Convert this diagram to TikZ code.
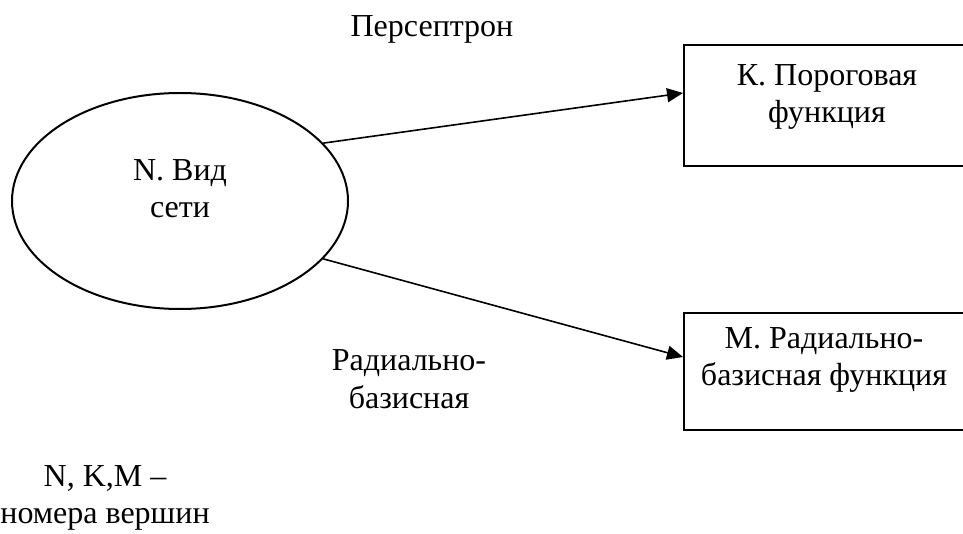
\documentclass[tikz,border=0pt]{standalone}
\usepackage{fontspec}
\setmainfont{Liberation Serif}
\usetikzlibrary{arrows.meta,shapes.geometric}

\begin{document}
\begin{tikzpicture}[x=0.5pt,y=-0.5pt,>={Triangle[length=8pt,width=7pt]},
  font=\fontsize{16}{18.75}\selectfont,
  vert/.style={draw,line width=1pt,inner sep=0pt},
  lbl/.style={align=center,inner sep=0pt}]
\useasboundingbox (0,0) rectangle (963,534);
% vertices
\node[vert,ellipse,minimum width=168pt,minimum height=108pt] (N) at (180,201) {};
\node[vert,minimum width=143pt,minimum height=60.5pt] (K) at (827,105.5) {};
\node[vert,minimum width=143pt,minimum height=58.5pt] (M) at (827,371.5) {};
\node[lbl] (Ntxt) at (180,188.5) {N. Вид\\сети};
\node[lbl] (Ktxt) at (827,96.75) {К. Пороговая\\функция};
\node[lbl] (Mtxt) at (824,360) {М. Радиально-\\базисная функция};
% edges
\draw[->,line width=0.8pt] (N.22.6) -- ([yshift=6.25pt]K.west);
\draw[->,line width=0.8pt] (N.-22.6) -- ([yshift=7.25pt]M.west);
\node[anchor=base,inner sep=0pt] (perc) at (432,37) {Персептрон};
\node[lbl] (rbf) at (409,379) {Радиально-\\базисная};
% legend
\node[lbl] (legend) at (105,498) {N, K,M –\\номера вершин};
\end{tikzpicture}
\end{document}
